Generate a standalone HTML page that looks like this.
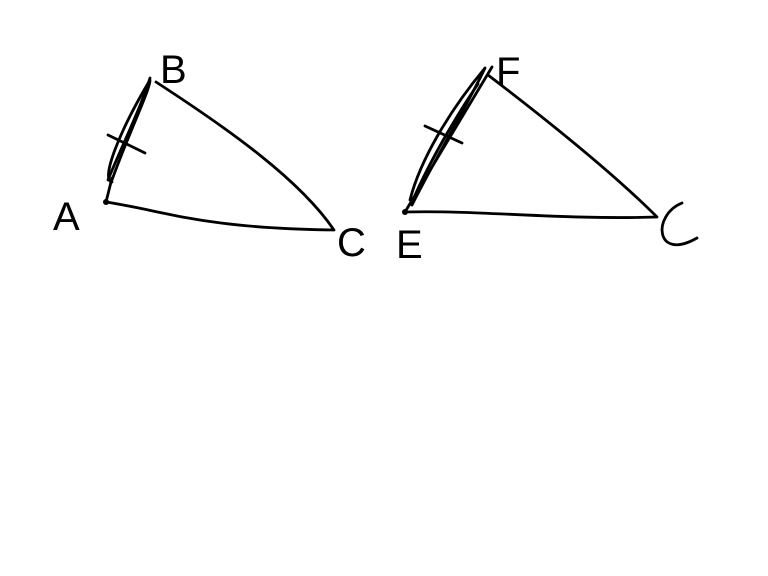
<!DOCTYPE html>
<html><head><meta charset="utf-8"><style>
html,body{margin:0;padding:0;background:#fff;}
svg{display:block}
text{font-family:"Liberation Sans",sans-serif;font-size:40px;fill:#000;font-weight:normal}
</style></head><body>
<svg width="768" height="576" viewBox="0 0 768 576" xmlns="http://www.w3.org/2000/svg">
<g fill="none" stroke="#000" stroke-width="2.8" stroke-linecap="round" stroke-linejoin="round">
<path d="M106 202 C170 212 200 228 334 230 C300 180 230 130 156 82"/>
<path d="M106 202 L112 178"/>
<path d="M112 182 C100 180 120 130 150 80 C150 90 130 130 112 180"/>
<path d="M150 78 C140 110 120 150 108 180"/>
<path d="M108 135 L145 153"/>
<path d="M405 212 C480 210 560 220 657 217 C620 180 560 130 488 75"/>
<path d="M405 212 C430 170 460 120 492 67"/>
<path d="M410 200 C420 160 450 110 485 68 C470 100 440 150 412 205"/>
<path d="M478 84 C460 110 430 160 413 200"/>
<path d="M425 126 L462 143"/>
<path d="M682 203 C652 215 655 262 697 238"/>
</g>
<circle cx="106" cy="202" r="3"/>
<circle cx="405" cy="212" r="3"/>
<text x="53" y="230">A</text>
<text x="160" y="83">B</text>
<text x="337" y="256">C</text>
<text x="396" y="258">E</text>
<text x="496" y="85">F</text>
</svg>
</body></html>
